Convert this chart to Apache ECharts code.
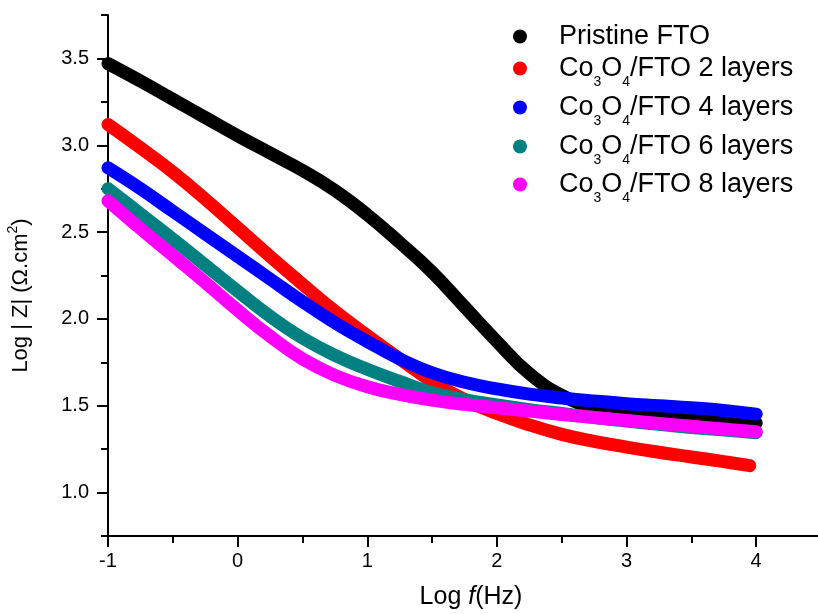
<!DOCTYPE html>
<html>
<head>
<meta charset="utf-8">
<script src="https://cdn.jsdelivr.net/npm/echarts@6/dist/echarts.min.js"></script>
<style>
html,body{margin:0;padding:0;background:#fff;}
#chart{width:818px;height:614px;}
</style>
</head>
<body>
<div id="chart"></div>
<script>
// Log f (Hz)
const logFreq = [-1, -0.75, -0.5, -0.25, 0, 0.25, 0.5, 0.75, 1, 1.25, 1.5, 1.75, 2, 2.25, 2.5, 2.75, 3, 3.25, 3.5, 3.75, 4];
const logFreqRed = [-1, -0.75, -0.5, -0.25, 0, 0.25, 0.5, 0.75, 1, 1.25, 1.5, 1.75, 2, 2.25, 2.5, 2.75, 3, 3.25, 3.5, 3.75, 3.95];
// Log |Z|
const pristineFTO = [3.47, 3.37, 3.265, 3.16, 3.055, 2.955, 2.855, 2.74, 2.60, 2.44, 2.27, 2.07, 1.87, 1.685, 1.56, 1.49, 1.46, 1.447, 1.436, 1.42, 1.40];
const layers2 = [3.12, 2.985, 2.845, 2.69, 2.525, 2.36, 2.20, 2.045, 1.905, 1.77, 1.64, 1.535, 1.455, 1.39, 1.335, 1.295, 1.262, 1.232, 1.205, 1.178, 1.155];
const layers4 = [2.87, 2.75, 2.62, 2.49, 2.36, 2.23, 2.10, 1.978, 1.87, 1.77, 1.69, 1.635, 1.597, 1.567, 1.545, 1.527, 1.512, 1.50, 1.488, 1.473, 1.452];
const layers6 = [2.75, 2.605, 2.46, 2.31, 2.16, 2.015, 1.89, 1.79, 1.71, 1.64, 1.575, 1.535, 1.505, 1.478, 1.455, 1.432, 1.412, 1.393, 1.375, 1.36, 1.345];
const layers8 = [2.68, 2.52, 2.365, 2.21, 2.05, 1.90, 1.77, 1.675, 1.61, 1.565, 1.532, 1.508, 1.488, 1.469, 1.45, 1.432, 1.415, 1.398, 1.382, 1.366, 1.35];

const seriesNames = ['Pristine FTO', 'Co3O4/FTO 2 layers', 'Co3O4/FTO 4 layers', 'Co3O4/FTO 6 layers', 'Co3O4/FTO 8 layers'];
const seriesColors = ['#000000', '#ff0000', '#0000ff', '#008080', '#ff00ff'];
const seriesX = [logFreq, logFreqRed, logFreq, logFreq, logFreq];
const seriesY = [pristineFTO, layers2, layers4, layers6, layers8];

const xMajorTicks = [-1, 0, 1, 2, 3, 4];
const xMinorTicks = [-0.5, 0.5, 1.5, 2.5, 3.5, 4.5];
const yMajorTicks = [1.0, 1.5, 2.0, 2.5, 3.0, 3.5];
const yMinorTicks = [0.75, 1.25, 1.75, 2.25, 2.75, 3.25, 3.75];

const FONT = "'Liberation Sans', Arial, sans-serif";
const chart = echarts.init(document.getElementById('chart'));

const legendTops = [23, 55, 94, 133, 171];
const legends = seriesNames.map((name, i) => ({
  data: [{ name: name, icon: 'circle' }],
  orient: 'vertical',
  left: 513,
  top: legendTops[i],
  padding: 0,
  itemWidth: 14,
  itemHeight: 14,
  selectedMode: false,
  formatter: function (n) {
    if (n.indexOf('Co3O4') === 0) {
      return '{n|Co}{s|3}{n|O}{s|4}{n|' + n.slice(5) + '}';
    }
    return '{n|' + n + '}';
  },
  textStyle: {
    color: '#000',
    fontFamily: FONT,
    fontSize: 27,
    padding: [0, 0, 0, 27],
    rich: {
      n: { fontSize: 27, lineHeight: 31, fontFamily: FONT, color: '#000' },
      s: { fontSize: 14, fontFamily: FONT, color: '#000', padding: [28, 0, 0, 0] }
    }
  }
}));

const option = {
  backgroundColor: '#ffffff',
  animation: false,
  grid: { left: 108, top: 15, width: 713, height: 521, outerBoundsMode: 'none', containLabel: false },
  legend: legends,
  xAxis: [
    {
      type: 'value', min: -1, max: 4.5, position: 'bottom',
      axisLine: { show: true, onZero: false, lineStyle: { color: '#000', width: 2 } },
      axisTick: { show: true, length: 11, lineStyle: { color: '#000', width: 2 }, customValues: xMajorTicks },
      axisLabel: { show: true, customValues: xMajorTicks, margin: 15, color: '#000', fontSize: 20, fontFamily: FONT,
        formatter: v => String(v) },
      splitLine: { show: false },
      name: '{a|Log }{i|f}{a|(Hz)}',
      nameLocation: 'middle',
      nameGap: 49,
      nameTextStyle: {
        padding: [0, 0, 0, 13],
        rich: {
          a: { fontSize: 25, fontFamily: FONT, color: '#000' },
          i: { fontSize: 25, fontFamily: FONT, color: '#000', fontStyle: 'italic' }
        }
      }
    },
    {
      type: 'value', min: -1, max: 4.5, position: 'bottom',
      axisLine: { show: false, onZero: false },
      axisTick: { show: true, length: 7, lineStyle: { color: '#000', width: 2 }, customValues: xMinorTicks },
      axisLabel: { show: false },
      splitLine: { show: false }
    }
  ],
  yAxis: [
    {
      type: 'value', min: 0.75, max: 3.75, position: 'left',
      axisLine: { show: true, onZero: false, lineStyle: { color: '#000', width: 2 } },
      axisTick: { show: true, length: 11, lineStyle: { color: '#000', width: 2 }, customValues: yMajorTicks },
      axisLabel: { show: true, customValues: yMajorTicks, margin: 19, color: '#000', fontSize: 20, fontFamily: FONT,
        formatter: v => v.toFixed(1) },
      splitLine: { show: false },
      name: '{a|Log | Z| (Ω.cm}{sup|2}{a|)}',
      nameLocation: 'middle',
      nameGap: 72,
      nameTextStyle: {
        padding: [0, 40, 0, 0],
        rich: {
          a: { fontSize: 22, fontFamily: FONT, color: '#000' },
          sup: { fontSize: 14, fontFamily: FONT, color: '#000', padding: [0, 0, 16, 0] }
        }
      }
    },
    {
      type: 'value', min: 0.75, max: 3.75, position: 'left',
      axisLine: { show: false, onZero: false },
      axisTick: { show: true, length: 7, lineStyle: { color: '#000', width: 2 }, customValues: yMinorTicks },
      axisLabel: { show: false },
      splitLine: { show: false }
    }
  ],
  series: seriesNames.map((name, i) => ({
    name: name,
    type: 'line',
    xAxisIndex: 0,
    yAxisIndex: 0,
    data: seriesX[i].map((x, k) => [x, seriesY[i][k]]),
    smooth: 0.45,
    showSymbol: false,
    symbol: 'circle',
    color: seriesColors[i],
    itemStyle: { color: seriesColors[i] },
    lineStyle: { color: seriesColors[i], width: 13, cap: 'round', join: 'round' },
    z: 2 + i
  }))
};
chart.setOption(option);
</script>
</body>
</html>
